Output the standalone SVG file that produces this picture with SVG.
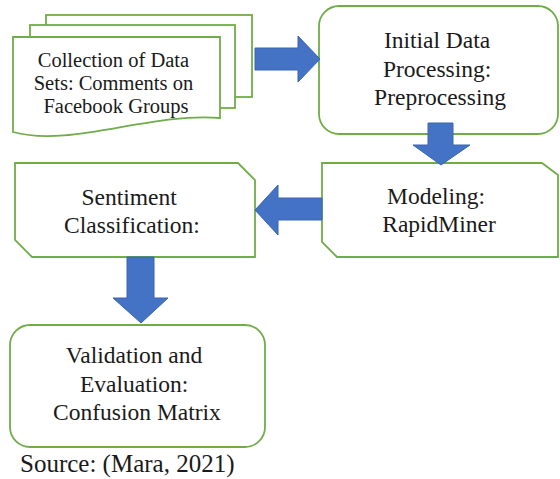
<svg xmlns="http://www.w3.org/2000/svg" width="560" height="479" viewBox="0 0 560 479">
  <style>
    .box { fill: #ffffff; stroke: #70AD47; stroke-width: 1.8; }
    .arrow { fill: #4472C4; stroke: #3A64B0; stroke-width: 1; }
    .t { font-family: "Liberation Serif", "Times New Roman", serif; font-size: 23.5px; fill: #1a1a1a; text-anchor: middle; }
    .ts { font-size: 20.5px; }
  </style>
  <rect width="560" height="479" fill="#ffffff"/>

  <g id="collection">
    <rect class="box" x="46" y="15" width="206" height="82"/>
    <rect class="box" x="30" y="25" width="205" height="83"/>
    <path class="box" d="M13,37 H220 V118 C150,112 70,148 13,132 Z"/>
    <text class="t ts">
      <tspan x="116" y="67">Collection of Data</tspan>
      <tspan x="116" y="90">Sets: Comments on</tspan>
      <tspan x="116" y="113">Facebook Groups</tspan>
    </text>
  </g>

  <g id="initial">
    <rect class="box" x="319" y="6" width="239" height="128" rx="20" ry="20"/>
    <text class="t">
      <tspan x="440" y="48">Initial Data</tspan>
      <tspan x="440" y="76.5">Processing:</tspan>
      <tspan x="440" y="105">Preprocessing</tspan>
    </text>
  </g>

  <g id="modeling">
    <path class="box" d="M322,163 H542 L558,175 V257 H337 L322,242 Z"/>
    <text class="t">
      <tspan x="439" y="204">Modeling:</tspan>
      <tspan x="439" y="232">RapidMiner</tspan>
    </text>
  </g>

  <g id="sentiment">
    <path class="box" d="M15,163 H238 L255,180 V257 H32 L15,240 Z"/>
    <text class="t">
      <tspan x="132" y="205">Sentiment</tspan>
      <tspan x="132" y="233">Classification:</tspan>
    </text>
  </g>

  <g id="validation">
    <rect class="box" x="10" y="325" width="255" height="122" rx="20" ry="20"/>
    <text class="t">
      <tspan x="137" y="363">Validation and</tspan>
      <tspan x="137" y="392">Evaluation:</tspan>
      <tspan x="137" y="420">Confusion Matrix</tspan>
    </text>
  </g>

  <g id="connectors">
    <polygon class="arrow" points="255,48 298,48 298,36 320,59 298,82 298,70 255,70"/>
    <polygon class="arrow" points="428,123 453,123 453,145 470,145 441,165 413,145 428,145"/>
    <polygon class="arrow" points="322,198 278,198 278,185 255,210 278,235 278,220 322,220"/>
    <polygon class="arrow" points="127,257 154,257 154,298 168,298 141,323 113,298 127,298"/>
  </g>

  <g id="source">
    <text class="t" style="text-anchor:start;font-size:25px" x="20" y="472">Source: (Mara, 2021)</text>
  </g>
</svg>
